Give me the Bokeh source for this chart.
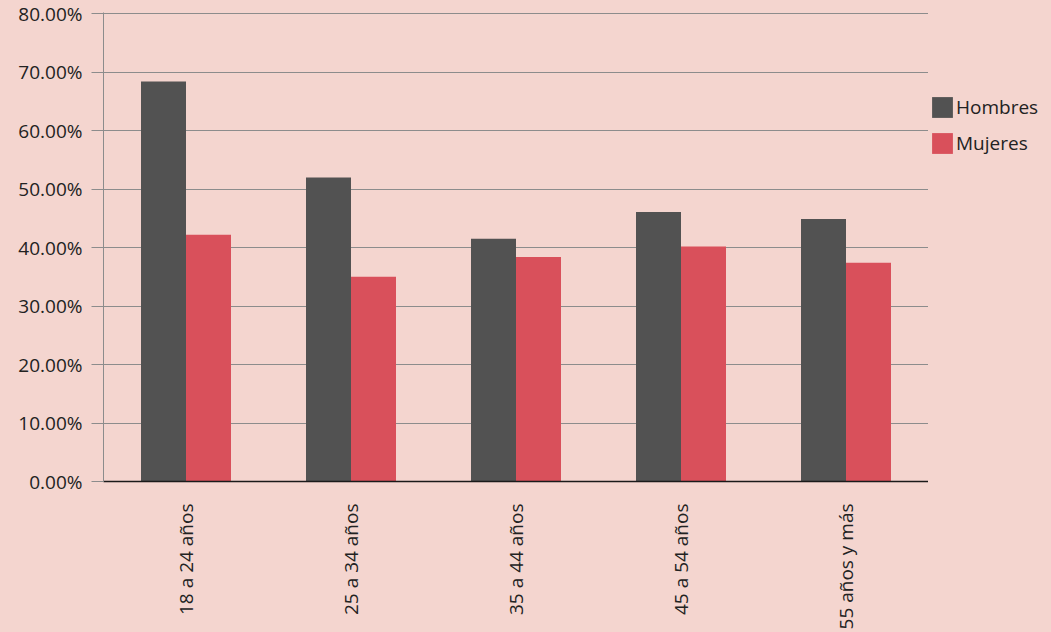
from bokeh.plotting import figure
from bokeh.layouts import row
from bokeh.models import (ColumnDataSource, FactorRange, FixedTicker, PrintfTickFormatter,
                          Legend, LegendItem, Range1d)
from bokeh.transform import dodge
from bokeh.embed import file_html
from bokeh.resources import INLINE
import math

categories = ["18 a 24 años", "25 a 34 años", "35 a 44 años", "45 a 54 años", "55 años y más"]
hombres = [68.4, 52.0, 41.5, 46.1, 44.9]
mujeres = [42.2, 35.0, 38.4, 40.2, 37.4]
y_ticks = [0, 10, 20, 30, 40, 50, 60, 70, 80]
series_labels = ["Hombres", "Mujeres"]

BG = "#f4d5cf"
FONT = "Open Sans"
C_H = "#525252"
C_M = "#d9505b"

src = ColumnDataSource(dict(cat=categories, hombres=hombres, mujeres=mujeres))

p = figure(width=928, height=632, x_range=FactorRange(factors=categories, range_padding=0),
           y_range=Range1d(0, 80.2), output_backend="svg", toolbar_location=None,
           min_border_left=103, min_border_top=12, min_border_right=0, min_border_bottom=147)
p.background_fill_color = BG
p.border_fill_color = BG
p.outline_line_color = None

bw = 45.0 / 165.0
r1 = p.vbar(x=dodge("cat", -bw / 2, range=p.x_range), top="hombres", width=bw, source=src,
            fill_color=C_H, line_color=None)
r2 = p.vbar(x=dodge("cat", bw / 2, range=p.x_range), top="mujeres", width=bw, source=src,
            fill_color=C_M, line_color=None)

# y axis
p.yaxis.ticker = FixedTicker(ticks=y_ticks)
p.yaxis.formatter = PrintfTickFormatter(format="%.2f%%")
p.yaxis.major_tick_out = 12
p.yaxis.major_tick_in = 0
p.yaxis.minor_tick_line_color = None
p.yaxis.major_tick_line_color = "#8c8c8c"
p.yaxis.axis_line_color = "#8c8c8c"
p.yaxis.major_label_text_font = FONT
p.yaxis.major_label_text_font_size = "19px"
p.yaxis.major_label_text_color = "#222222"
p.yaxis.major_label_standoff = 9

# x axis
p.xaxis.major_tick_line_color = None
p.xaxis.minor_tick_line_color = None
p.xaxis.axis_line_color = "#1a1a1a"
p.xaxis.axis_line_width = 1.5
p.xaxis.major_label_orientation = math.pi / 2
p.xaxis.major_label_text_font = FONT
p.xaxis.major_label_text_font_size = "19px"
p.xaxis.major_label_text_color = "#222222"
p.xaxis.major_label_standoff = 16

p.xgrid.grid_line_color = None
p.ygrid.ticker = FixedTicker(ticks=y_ticks[1:])
p.ygrid.grid_line_color = "#8c8c8c"
p.ygrid.grid_line_width = 1.2

# legend panel (separate small figure to the right of the plot area)
p2 = figure(width=1051 - 928, height=632, x_range=FactorRange(factors=categories),
            y_range=Range1d(0, 80), output_backend="svg", toolbar_location=None,
            x_axis_type=None, y_axis_type=None,
            min_border_left=0, min_border_top=12, min_border_right=0, min_border_bottom=147)
p2.background_fill_color = BG
p2.border_fill_color = BG
p2.outline_line_color = None
q1 = p2.vbar(x="cat", top="hombres", width=0.3, source=src, fill_color=C_H, line_color=None,
             visible=False)
q2 = p2.vbar(x="cat", top="mujeres", width=0.3, source=src, fill_color=C_M, line_color=None,
             visible=False)

legend = Legend(items=[LegendItem(label=series_labels[0], renderers=[q1]),
                       LegendItem(label=series_labels[1], renderers=[q2])],
                location=(1, 325), orientation="vertical")
legend.inactive_fill_alpha = 0
legend.background_fill_alpha = 0
legend.border_line_alpha = 0
legend.padding = 0
legend.margin = 0
legend.spacing = 10
legend.glyph_width = 26
legend.glyph_height = 26
legend.label_height = 26
legend.label_standoff = 1
legend.label_text_font = FONT
legend.label_text_font_size = "19px"
legend.label_text_color = "#222222"
p2.add_layout(legend)

layout = row(p, p2, styles={"background-color": BG})
html = file_html(layout, INLINE)
html = html.replace("</head>", "<style>html, body { background: %s; }</style></head>" % BG, 1)
open("out.html", "w").write(html)
